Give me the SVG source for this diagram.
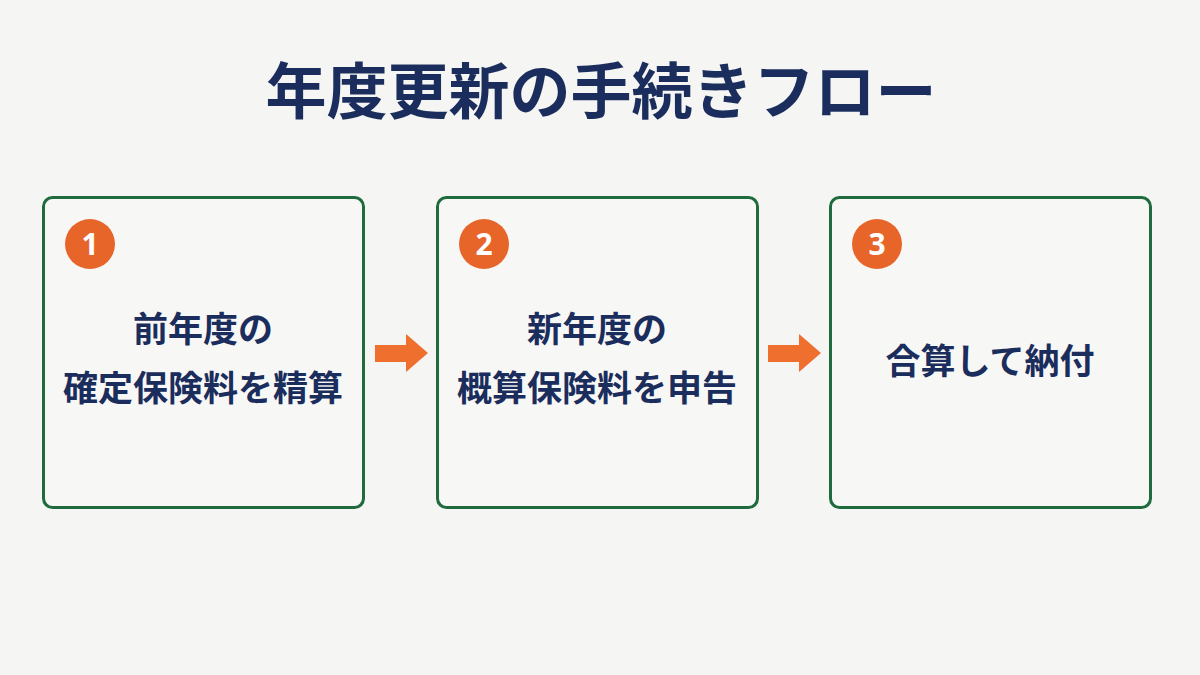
<svg xmlns="http://www.w3.org/2000/svg" width="1200" height="675" viewBox="0 0 1200 675">
<style>
text{font-family:"Noto Sans CJK JP","Noto Sans",sans-serif;fill:#1b2d5c;font-weight:700;text-anchor:middle}
.title{font-size:61px}
.box{fill:#f7f7f5;stroke:#1f6b3d;stroke-width:3}
.lbl{font-size:35px}
.badge{fill:#e8652a}
.num{fill:#ffffff;font-size:30px;font-family:"Noto Sans","Liberation Sans",sans-serif}
.arrow{fill:#ef6f2e}
</style>
<rect width="1200" height="675" fill="#f5f5f3"/>
<text class="title" x="601" y="114">年度更新の手続きフロー</text>
<g id="node1">
<rect class="box" x="43.5" y="197.5" width="320" height="310" rx="9"/>
<circle class="badge" cx="90" cy="244" r="25"/>
<text class="num" x="90" y="255">1</text>
<text class="lbl" x="203" y="342">前年度の</text>
<text class="lbl" x="203" y="401">確定保険料を精算</text>
</g>
<g id="node2">
<rect class="box" x="437.5" y="197.5" width="320" height="310" rx="9"/>
<circle class="badge" cx="484" cy="244" r="25"/>
<text class="num" x="484" y="255">2</text>
<text class="lbl" x="597" y="342">新年度の</text>
<text class="lbl" x="597" y="401">概算保険料を申告</text>
</g>
<g id="node3">
<rect class="box" x="830.5" y="197.5" width="320" height="310" rx="9"/>
<circle class="badge" cx="877" cy="244" r="25"/>
<text class="num" x="877" y="255">3</text>
<text class="lbl" x="990" y="374">合算して納付</text>
</g>
<g id="connectors">
<polygon class="arrow" points="375,345 406,345 406,334 428,353 406,372 406,362 375,362"/>
<polygon class="arrow" points="768,345 799,345 799,334 821,353 799,372 799,362 768,362"/>
</g>
</svg>
